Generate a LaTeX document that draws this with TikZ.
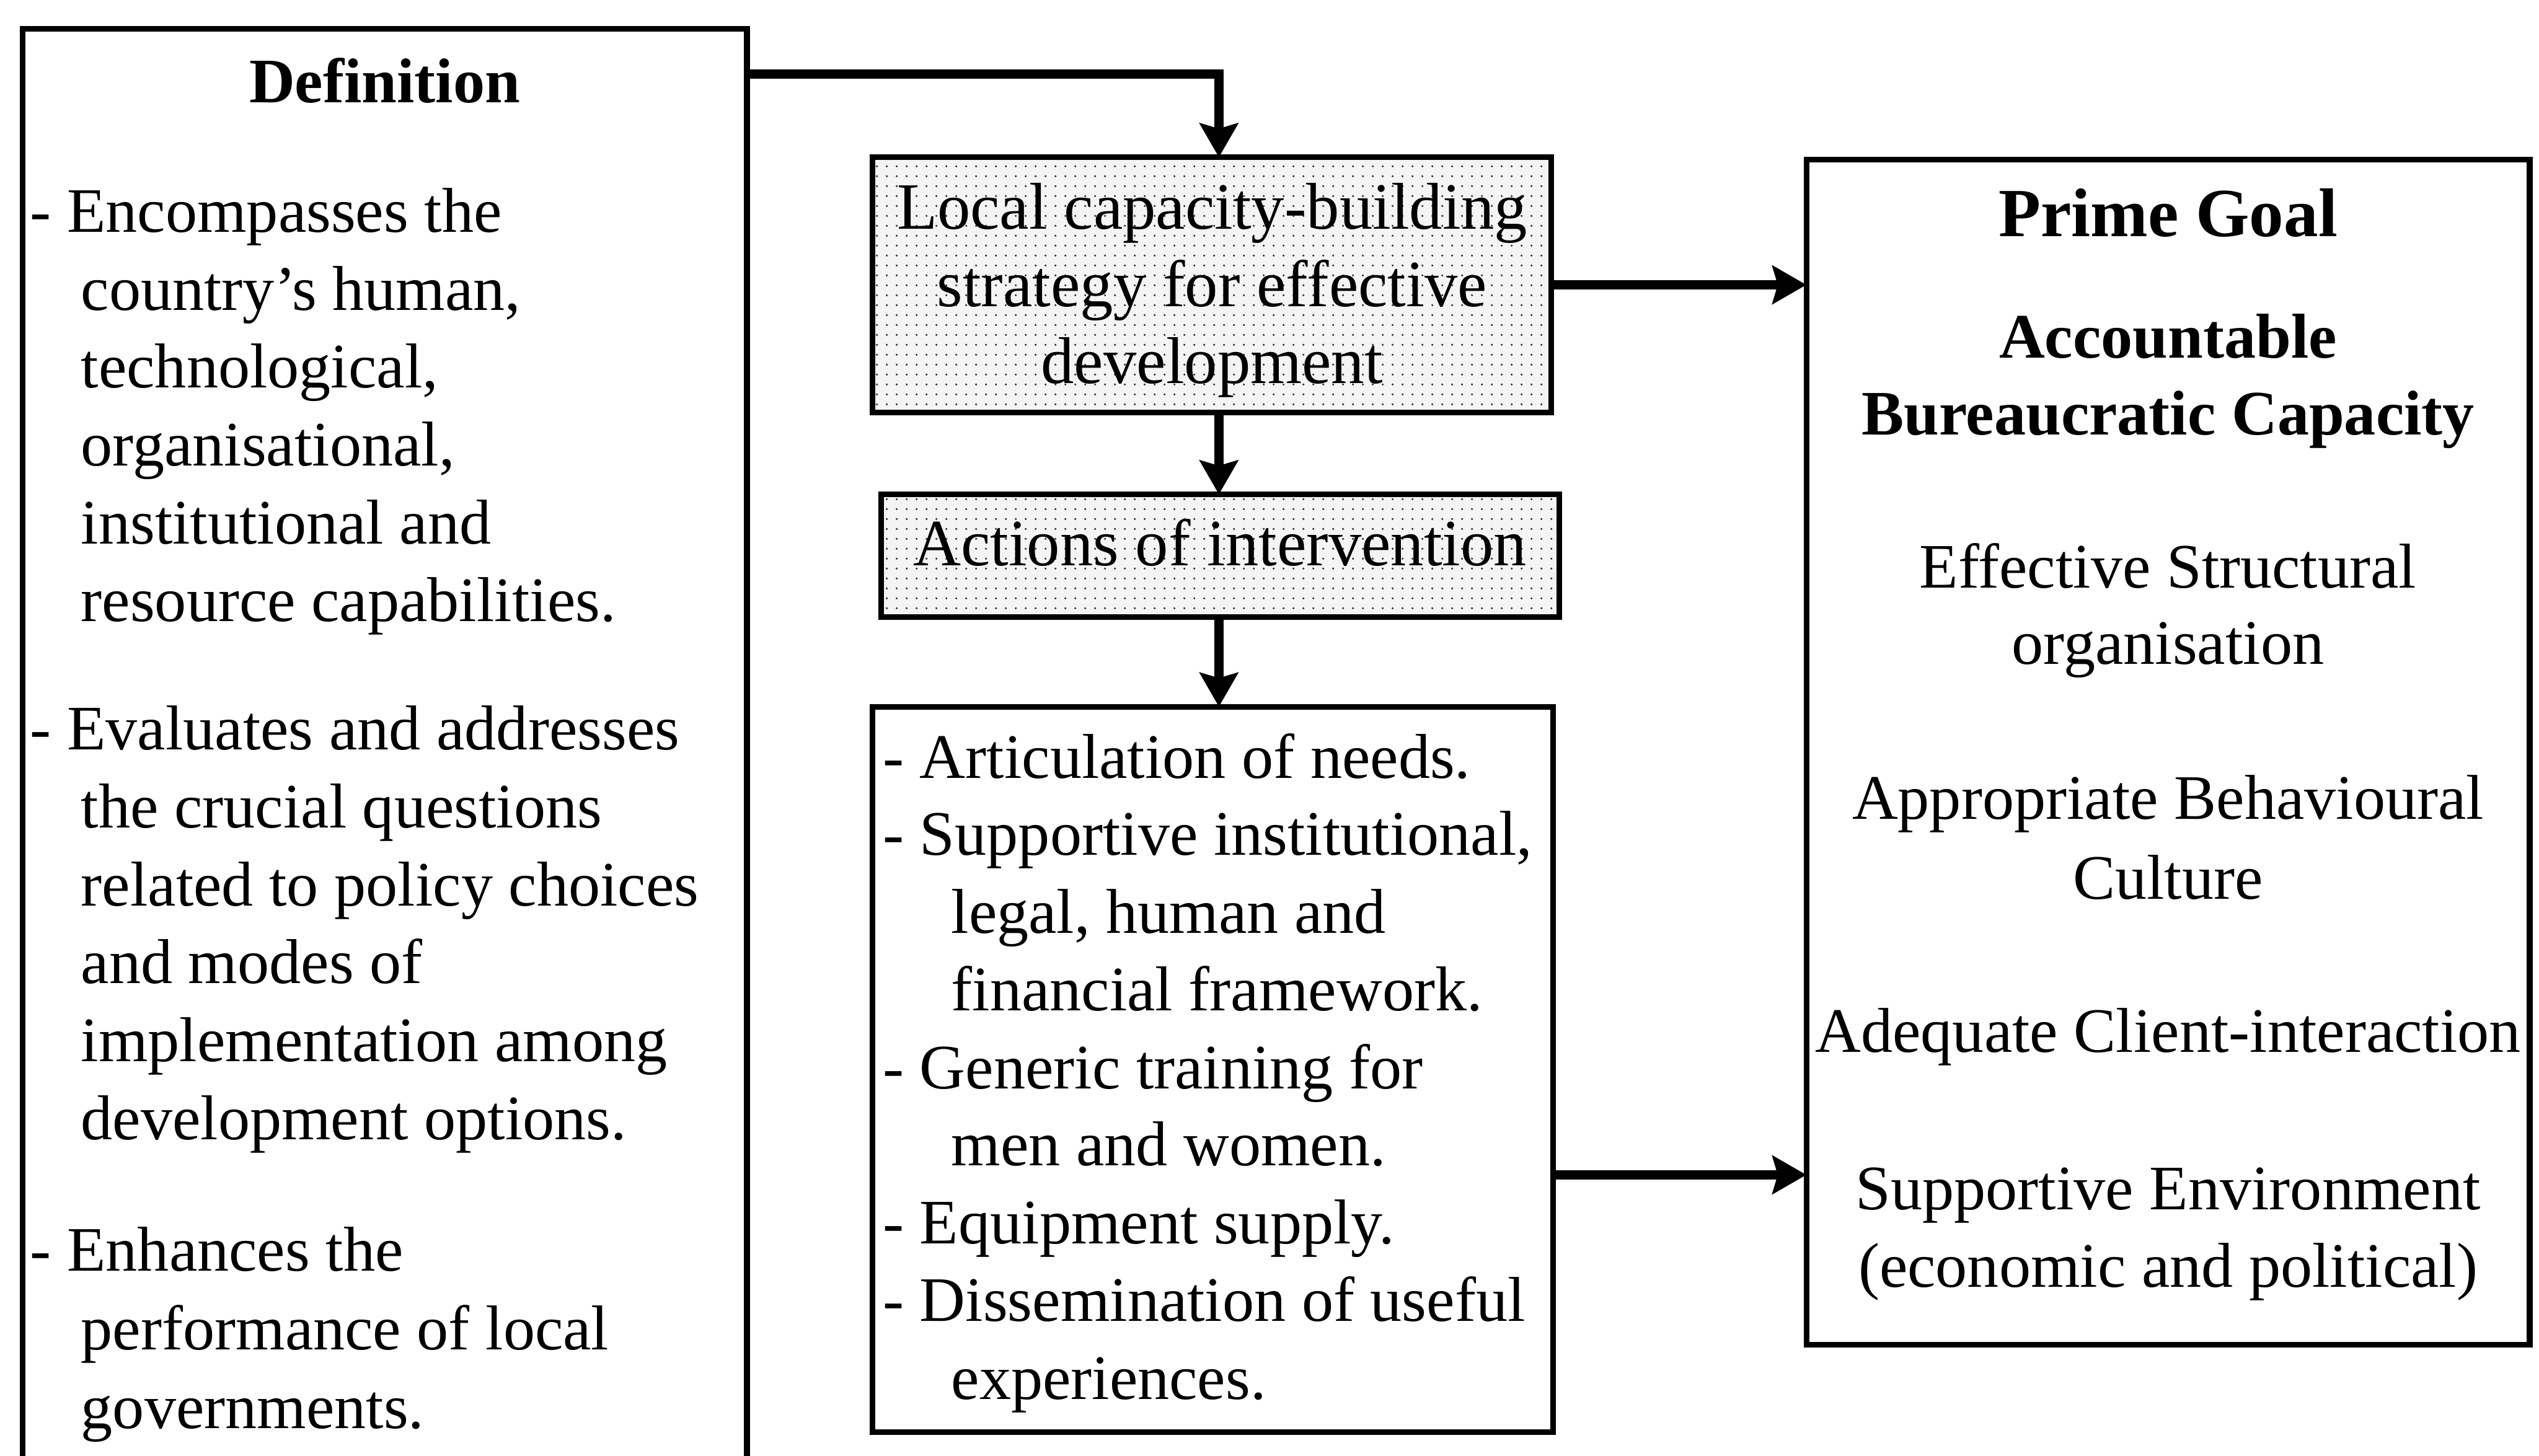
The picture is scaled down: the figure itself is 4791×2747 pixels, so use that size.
\documentclass[tikz,border=0pt]{standalone}
\usepackage{fontspec}
\setmainfont{Liberation Serif}
\usetikzlibrary{arrows.meta,patterns.meta,calc}

% fine dot stipple used for the two strategy boxes
\tikzdeclarepattern{
  name=stipple,
  type=uncolored,
  tile size={(5.2pt,5.2pt)},
  bounding box={(0pt,0pt) and (5.2pt,5.2pt)},
  code={\pgfpathcircle{\pgfpoint{2.6pt}{2.6pt}}{0.6pt}\pgfusepath{fill}}
}

\tikzset{
  frame/.style={draw=black, line width=3.1pt, inner sep=0pt, outer sep=0pt},
  stippled/.style={frame, preaction={fill=gray!9}, pattern=stipple, pattern color=black!80},
  flow/.style={line width=5pt, -{Stealth[length=0.64cm,width=0.72cm,inset=0.1cm]}},
  body/.style={inner sep=0pt, outer sep=0pt, font=\fontsize{34pt}{41pt}\selectfont},
  bodyb/.style={body, font=\fontsize{34pt}{41pt}\selectfont\bfseries},
  strat/.style={inner sep=0pt, outer sep=0pt, font=\fontsize{35.5pt}{42pt}\selectfont, anchor=base},
  goal/.style={body, anchor=base},
  goalb/.style={bodyb, anchor=base},
}

\begin{document}
\begin{tikzpicture}[x=0.01cm,y=-0.01cm]
\useasboundingbox (0,0) rectangle (4791,2747);
\clip (0,0) rectangle (4791,2747);

% ---------- boxes ----------
\node[frame, minimum width=13.66cm, minimum height=27.45cm] (def) at (726,1427.5) {};
\node[stippled, minimum width=12.80cm, minimum height=4.81cm] (local) at (2287,537.5) {};
\node[stippled, minimum width=12.79cm, minimum height=2.31cm] (actions) at (2302.5,1048.5) {};
\node[frame, minimum width=12.83cm, minimum height=13.68cm] (list) at (2288.5,2018) {};
\node[frame, minimum width=13.64cm, minimum height=22.35cm] (prime) at (4091,1419.5) {};

% ---------- definition text ----------
\node[bodyb, anchor=base] (def-t) at (726,193) {Definition};
\node[body, anchor=base west] (d1) at (57,438) {- Encompasses the};
\node[body, anchor=base west] (d2) at (153,585) {country's human,};
\node[body, anchor=base west] (d3) at (153,732) {technological,};
\node[body, anchor=base west] (d4) at (153,879) {organisational,};
\node[body, anchor=base west] (d5) at (153,1026) {institutional and};
\node[body, anchor=base west] (d6) at (153,1173) {resource capabilities.};
\node[body, anchor=base west] (d7) at (57,1415) {- Evaluates and addresses};
\node[body, anchor=base west] (d8) at (153,1562) {the crucial questions};
\node[body, anchor=base west] (d9) at (153,1709) {related to policy choices};
\node[body, anchor=base west] (d10) at (153,1856) {and modes of};
\node[body, anchor=base west] (d11) at (153,2003) {implementation among};
\node[body, anchor=base west] (d12) at (153,2150) {development options.};
\node[body, anchor=base west] (d13) at (57,2398) {- Enhances the};
\node[body, anchor=base west] (d14) at (153,2547) {performance of local};
\node[body, anchor=base west] (d15) at (153,2695) {governments.};

% ---------- strategy text ----------
\node[strat] (s1) at (2287,432) {Local capacity-building};
\node[strat] (s2) at (2287,578) {strategy for effective};
\node[strat] (s3) at (2287,723) {development};
\node[strat] (a1) at (2302,1067) {Actions of intervention};

% ---------- action list ----------
\node[body, anchor=base west] (m1) at (1666,1468) {- Articulation of needs.};
\node[body, anchor=base west] (m2) at (1666,1614) {- Supportive institutional,};
\node[body, anchor=base west] (m3) at (1795,1761) {legal, human and};
\node[body, anchor=base west] (m4) at (1795,1907) {financial framework.};
\node[body, anchor=base west] (m5) at (1666,2054) {- Generic training for};
\node[body, anchor=base west] (m6) at (1795,2200) {men and women.};
\node[body, anchor=base west] (m7) at (1666,2347) {- Equipment supply.};
\node[body, anchor=base west] (m8) at (1666,2493) {- Dissemination of useful};
\node[body, anchor=base west] (m9) at (1795,2640) {experiences.};

% ---------- goals ----------
\node[goalb, font=\fontsize{37pt}{44pt}\selectfont\bfseries] (g0) at (4091,446) {Prime Goal};
\node[goalb] (g1) at (4091,676) {Accountable};
\node[goalb] (g2) at (4091,821) {Bureaucratic Capacity};
\node[goal] (g3) at (4091,1109) {Effective Structural};
\node[goal] (g4) at (4091,1253) {organisation};
\node[goal] (g5) at (4091,1546) {Appropriate Behavioural};
\node[goal] (g6) at (4091,1696) {Culture};
\node[goal] (g7) at (4091,1986) {Adequate Client-interaction};
\node[goal] (g8) at (4091,2283) {Supportive Environment};
\node[goal] (g9) at (4091,2429) {(economic and political)};

% ---------- connectors ----------
\coordinate (spine) at (2300,0);
\coordinate (top-out) at ($(def.north east)+(0,85)$);
\coordinate (low-row) at (0,2217);
\draw[flow] (top-out) -| (local.north -| spine);
\draw[flow] (local.south -| spine) -- (actions.north -| spine);
\draw[flow] (actions.south -| spine) -- (list.north -| spine);
\draw[flow] (local.east) -- (local.east -| prime.west);
\draw[flow] (list.east |- low-row) -- (prime.west |- low-row);
\end{tikzpicture}
\end{document}
